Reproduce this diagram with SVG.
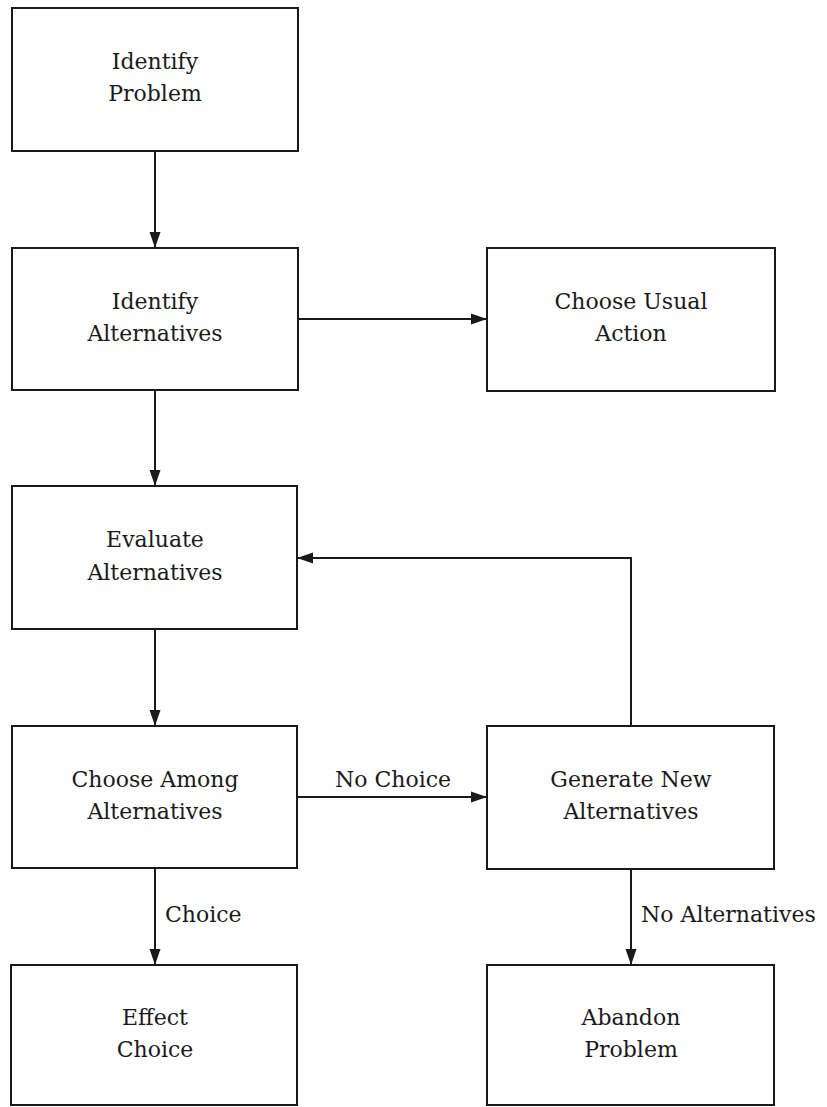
<svg xmlns="http://www.w3.org/2000/svg" width="827" height="1107" viewBox="0 0 827 1107">
<style>
.box{fill:#fff;stroke:#1a1a1a;stroke-width:2}
.t{font-family:'DejaVu Serif',serif;font-size:22px;fill:#1a1a1a;text-anchor:middle}
.l{font-family:'DejaVu Serif',serif;font-size:22px;fill:#1a1a1a}
.c{fill:none;stroke:#1a1a1a;stroke-width:2;marker-end:url(#ah)}
</style>
<defs>
<marker id="ah" markerUnits="userSpaceOnUse" markerWidth="17" markerHeight="12" refX="16" refY="6" orient="auto">
<path d="M0,0.5 L16,6 L0,11.5 Z" fill="#1a1a1a"/>
</marker>
</defs>
<rect width="827" height="1107" fill="#fff"/>
<g id="connectors">
<line class="c" x1="155" y1="151" x2="155" y2="248"/>
<line class="c" x1="298" y1="319" x2="487" y2="319"/>
<line class="c" x1="155" y1="390" x2="155" y2="486"/>
<line class="c" x1="155" y1="629" x2="155" y2="726"/>
<line class="c" x1="297" y1="797" x2="487" y2="797"/>
<line class="c" x1="155" y1="868" x2="155" y2="965"/>
<line class="c" x1="631" y1="869" x2="631" y2="965"/>
<polyline class="c" points="631,726 631,558 297,558"/>
<text class="l" x="335" y="787">No Choice</text>
<text class="l" x="165" y="922">Choice</text>
<text class="l" x="641" y="922">No Alternatives</text>
</g>
<g id="identify-problem">
<rect class="box" x="12" y="8" width="286" height="143"/>
<text class="t" x="155" y="69">Identify</text>
<text class="t" x="155" y="101">Problem</text>
</g>
<g id="identify-alternatives">
<rect class="box" x="12" y="248" width="286" height="142"/>
<text class="t" x="155" y="309">Identify</text>
<text class="t" x="155" y="341">Alternatives</text>
</g>
<g id="choose-usual-action">
<rect class="box" x="487" y="248" width="288" height="143"/>
<text class="t" x="631" y="309">Choose Usual</text>
<text class="t" x="631" y="341">Action</text>
</g>
<g id="evaluate-alternatives">
<rect class="box" x="12" y="486" width="285" height="143"/>
<text class="t" x="155" y="547">Evaluate</text>
<text class="t" x="155" y="580">Alternatives</text>
</g>
<g id="choose-among-alternatives">
<rect class="box" x="12" y="726" width="285" height="142"/>
<text class="t" x="155" y="787">Choose Among</text>
<text class="t" x="155" y="819">Alternatives</text>
</g>
<g id="generate-new-alternatives">
<rect class="box" x="487" y="726" width="287" height="143"/>
<text class="t" x="631" y="787">Generate New</text>
<text class="t" x="631" y="819">Alternatives</text>
</g>
<g id="effect-choice">
<rect class="box" x="11" y="965" width="286" height="140"/>
<text class="t" x="155" y="1025">Effect</text>
<text class="t" x="155" y="1057">Choice</text>
</g>
<g id="abandon-problem">
<rect class="box" x="487" y="965" width="287" height="140"/>
<text class="t" x="631" y="1025">Abandon</text>
<text class="t" x="631" y="1057">Problem</text>
</g>
</svg>
